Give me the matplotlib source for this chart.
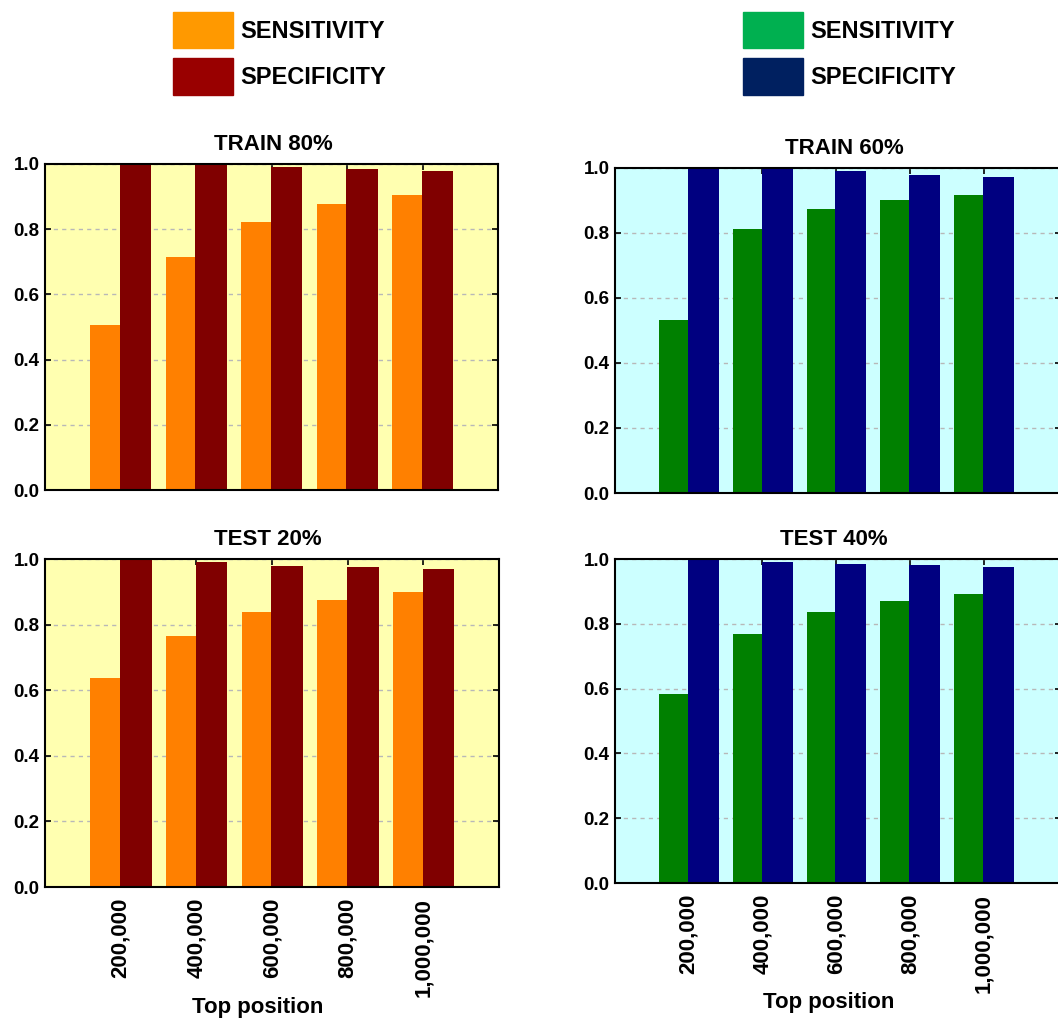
import numpy as np
import matplotlib.pyplot as plt
from matplotlib.patches import Patch

plt.rcParams['font.family'] = ['Liberation Sans', 'DejaVu Sans']
plt.rcParams['font.weight'] = 'bold'

# Data
top_positions = ['200,000', '400,000', '600,000', '800,000', '1,000,000']

train80_sens = [0.505, 0.716, 0.823, 0.878, 0.906]
train80_spec = [1.000, 1.000, 0.990, 0.985, 0.979]
test20_sens = [0.637, 0.765, 0.837, 0.876, 0.898]
test20_spec = [1.000, 0.992, 0.980, 0.976, 0.969]

train60_sens = [0.533, 0.812, 0.873, 0.902, 0.918]
train60_spec = [1.000, 1.000, 0.991, 0.979, 0.973]
test40_sens = [0.584, 0.768, 0.836, 0.869, 0.891]
test40_spec = [1.000, 0.991, 0.986, 0.980, 0.974]

W, H = 1058, 1021
fig = plt.figure(figsize=(W / 100, H / 100), dpi=100)


def px_axes(left, top, right, bottom):
    return fig.add_axes([left / W, 1 - bottom / H, (right - left) / W, (bottom - top) / H])


def draw(ax, title, sens, spec, c_sens, c_spec, bg, xmax, title_x, label_x, show_x):
    x = np.arange(1, len(sens) + 1)
    ax.set_facecolor(bg)
    ax.bar(x - 0.2, sens, width=0.4, color=c_sens, zorder=2)
    ax.bar(x + 0.2, spec, width=0.42, color=c_spec, zorder=2)
    ax.set_xlim(0, xmax)
    ax.set_ylim(0, 1)
    ax.set_yticks([0, 0.2, 0.4, 0.6, 0.8, 1.0])
    ax.set_yticklabels(['0.0', '0.2', '0.4', '0.6', '0.8', '1.0'])
    ax.set_xticks(x)
    ax.yaxis.grid(True, linestyle=(0, (3, 3)), color='#b8b8b8', linewidth=1.0, zorder=1)
    ax.set_axisbelow(True)
    ax.tick_params(direction='in', top=True, right=True, length=4, width=1.2,
                   labelsize=13.5, pad=4)
    ax.tick_params(axis='x', labelsize=16, pad=8)
    if show_x:
        ax.set_xticklabels(top_positions, rotation=90, fontweight='bold')
        ax.set_xlabel('Top position', fontsize=16, fontweight='bold')
        ax.xaxis.set_label_coords(label_x, -0.335)
    else:
        ax.set_xticklabels([])
    for lab in ax.get_yticklabels():
        lab.set_fontweight('bold')
    for s in ax.spines.values():
        s.set_linewidth(1.5)
    ax.set_title(title, fontsize=16, fontweight='bold', pad=10, x=title_x)


yellow = '#FFFFB0'
cyan = '#CCFFFF'

ax1 = px_axes(45, 164, 498, 490)
draw(ax1, 'TRAIN 80%', train80_sens, train80_spec, '#FF8000', '#800000', yellow, 6, 0.505, 0.469, False)
ax2 = px_axes(45, 559, 499, 887)
draw(ax2, 'TEST 20%', test20_sens, test20_spec, '#FF8000', '#800000', yellow, 6, 0.49, 0.469, True)
ax3 = px_axes(615, 168, 1061, 493)
draw(ax3, 'TRAIN 60%', train60_sens, train60_spec, '#008000', '#000080', cyan, 6.05, 0.515, 0.478, False)
ax4 = px_axes(615, 559, 1061, 883)
draw(ax4, 'TEST 40%', test40_sens, test40_spec, '#008000', '#000080', cyan, 6.05, 0.49, 0.478, True)

# Legends
leg_kw = dict(loc='upper left', frameon=False, handlelength=2.55,
              handleheight=2.0, handletextpad=0.3, labelspacing=0.42,
              borderpad=0, borderaxespad=0, prop={'weight': 'bold', 'size': 17})
fig.legend(handles=[Patch(color='#FF9900'), Patch(color='#990000')],
           labels=['SENSITIVITY', 'SPECIFICITY'],
           bbox_to_anchor=(173 / W, 1 - 12 / H), **leg_kw)
fig.legend(handles=[Patch(color='#00B050'), Patch(color='#002060')],
           labels=['SENSITIVITY', 'SPECIFICITY'],
           bbox_to_anchor=(743 / W, 1 - 12 / H), **leg_kw)

fig.savefig('out.png', dpi=100)
